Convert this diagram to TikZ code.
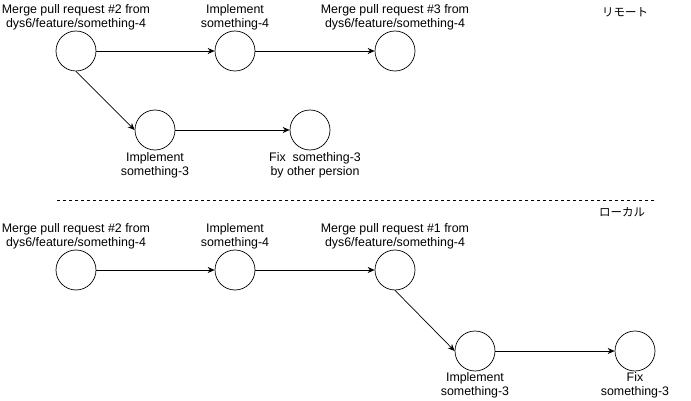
\documentclass[tikz,border=0pt]{standalone}
\usepackage{fontspec}
\setmainfont{Liberation Sans}
\newfontfamily\cjk{Noto Sans CJK JP}
\usetikzlibrary{arrows.meta}
\begin{document}
\begin{tikzpicture}[x=1pt,y=-1pt,
  commit/.style={circle,draw,line width=0.7pt,minimum size=40pt,inner sep=0pt},
  lbl/.style={font=\fontsize{12.4}{14}\selectfont,align=center,inner sep=0pt},
  jlbl/.style={font=\cjk\fontsize{11.5}{13}\selectfont,inner sep=0pt},
  arr/.style={-{Stealth[length=7pt,width=6pt]},line width=0.7pt}]
\useasboundingbox[fill=white] (0,0) rectangle (691,401);
% remote
\node[commit] (r1) at (76,51) {};
\node[commit] (r2) at (235,51) {};
\node[commit] (r3) at (395,51) {};
\node[commit] (r4) at (155,130) {};
\node[commit] (r5) at (310,130) {};
\node[lbl] (lr1) at (76,17) {Merge pull request \#2 from\\dys6/feature/something-4};
\node[lbl] (lr2) at (235,17) {Implement\\something-4};
\node[lbl] (lr3) at (395,17) {Merge pull request \#3 from\\dys6/feature/something-4};
\node[lbl] (lr4) at (155,165) {Implement\\something-3};
\node[lbl] (lr5) at (315,165) {Fix\ \ something-3\\by other persion};
\node[jlbl] (remote) at (625,12) {リモート};
\draw[arr] (r1) -- (r2);
\draw[arr] (r2) -- (r3);
\draw[arr] (r1.south) -- (r4.west);
\draw[arr] (r4) -- (r5);
% separator
\coordinate (s1) at (57,200);
\coordinate (s2) at (655,200);
\draw[dash pattern=on 3pt off 3pt,line width=0.6pt] (s1) -- (s2);
\node[jlbl] (local) at (622,212) {ローカル};
% local
\node[commit] (l1) at (76,270) {};
\node[commit] (l2) at (235,270) {};
\node[commit] (l3) at (395,270) {};
\node[commit] (l4) at (475,351) {};
\node[commit] (l5) at (635,351) {};
\node[lbl] (ll1) at (76,236) {Merge pull request \#2 from\\dys6/feature/something-4};
\node[lbl] (ll2) at (235,236) {Implement\\something-4};
\node[lbl] (ll3) at (395,236) {Merge pull request \#1 from\\dys6/feature/something-4};
\node[lbl] (ll4) at (475,385) {Implement\\something-3};
\node[lbl] (ll5) at (635,385) {Fix\\something-3};
\draw[arr] (l1) -- (l2);
\draw[arr] (l2) -- (l3);
\draw[arr] (l3.south) -- (l4.west);
\draw[arr] (l4) -- (l5);
\end{tikzpicture}
\end{document}
